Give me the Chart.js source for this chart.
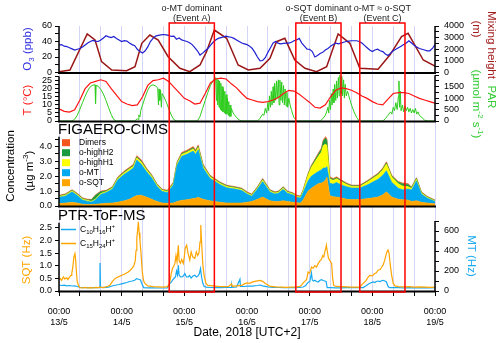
<!DOCTYPE html>
<html><head><meta charset="utf-8">
<script src="https://cdn.jsdelivr.net/npm/chart.js@4/dist/chart.umd.min.js"></script>
<style>html,body{margin:0;padding:0;background:#fff}#wrap{width:500px;height:343px;position:relative}</style>
</head><body><div id="wrap"><canvas id="c" width="500" height="343"></canvas></div>
<script>
// ---------- DATA (hours since 13/5 00:00, UTC+2) ----------
const dayLabels = ['13/5','14/5','15/5','16/5','17/5','18/5','19/5'];
const xTickHours = [0,8,16,24,32,40,48,56,64,72,80,88,96,104,112,120,128,136,144];

const eventNames = ['o-MT dominant','o-SQT dominant','o-MT \u2248 o-SQT'];
const eventTags = ['(Event A)','(Event B)','(Event C)'];
const eventStart = [42.2, 90.7, 115.2];
const eventEnd = [59.5, 108.0, 132.5];

// O3 (ppb), hourly
const o3Step = 1;
const o3 = [35.5,36,34,33.5,32,30.5,29,30,31,33,35.5,38,40,41.5,40.5,40,42,44.5,47.5,46,45,46.5,44,42,
  40,41,40.5,38,36,34.5,30,27,25,28,33,40,44,47,48,48.5,49,48.5,48,46.5,47,43,44.5,42,
  41,40,38.5,36,32,28,22.5,25,28,31,35,39,42,44,45,46,47,46,45.5,44,42,40,38,37,
  36,34,31,26,20,15,15.5,19,26,32,38,40,37.5,37,37.5,38,38,39,41,42,44,38,34,30,
  30,27,20,22,24.5,26,29,31,34,36,38,37,38,39,40,40.5,41,41,41,40,38,35,32,29,
  27,29,30,28,27,24,22,25,28,30,32,34,36,38,41,38,35,33,31,30,29,28,28,31,36];
// Mixing height (m) [hour, value]
const mixPts = [[0,60],[4.2,215],[10.8,3310],[13.8,2795],[16.3,930],[20.2,215],[25.9,150],[29.1,500],
  [31.7,2510],[34.8,3225],[38,2795],[41.8,1360],[46.3,360],[50.1,70],[54,645],[56.5,1790],[59.5,3655],
  [64.2,2940],[68.6,645],[72.5,215],[77,360],[80.8,1220],[83.3,2650],[86.5,2940],[90.3,1075],[94.2,360],
  [98.6,70],[102.5,500],[106.9,3310],[111.4,2510],[115.2,360],[122.2,275],[126.7,1500],[131.2,3080],
  [133.7,3370],[139.5,1075],[144,560]];
// Temperature (degC), every 2 h
const tStep = 2;
const temp = [7.5,6,5.5,7,13,20,23.5,24.5,25.5,24.5,20,16,
  12,10.5,9.5,10,15,22,25,25.5,26.5,24.5,21,17.5,
  14,12.5,10.5,11,17,23.5,26,26.5,26,23,20.5,17,
  14,13,12,11.5,12,13,14.5,17,19,18.5,16.5,14,
  11.5,8.5,8,10,15,19,20.5,20,19,17.5,15.5,14,
  12,10.5,10,13.5,17,17.5,17.5,17,15.5,14,13,12,11];
// PAR (umol m-2 s-1) [hour, value]
const parPts = [[0,0],[5,0],[6,80],[7,250],[8,520],[9,800],[10,1080],[11,1330],[12,1500],[13,1570],[13.8,1580],[14,760],[14.2,1560],
  [15,1520],[16,1380],[17,1180],[18,900],[19,580],[20,280],[21,60],[22,0],
  [29,0],[30,100],[30.3,60],[30.6,260],[31,180],[31.3,450],[32,700],[33,1050],[34,1350],[35,1540],[36,1580],[37,1530],
  [37.8,1450],[38.1,700],[38.3,1400],[38.6,900],[38.9,1350],[39.2,600],[39.5,1200],[40,1100],[41,850],[42,550],[43,260],[44,60],[45,0],
  [53,0],[54,200],[55,550],[56,900],[57,1250],[58,1550],[59,1750],[59.6,1850],[60,1900],[60.3,900],[60.5,1880],[60.8,700],
  [61,1800],[61.3,600],[61.5,1750],[61.8,500],[62,1650],[62.3,450],[62.5,1500],[62.8,400],[63,1400],[63.3,350],[63.5,1300],
  [63.8,300],[64,1150],[64.3,300],[64.5,1000],[64.8,250],[65,850],[65.3,200],[65.5,700],[65.8,200],[66,550],[66.5,400],
  [67,300],[68,150],[69,50],[70,0],
  [76,0],[77,120],[78,300],[78.5,250],[79,550],[79.5,350],[80,800],[80.3,450],[80.6,1100],[81,600],[81.3,1300],[81.6,700],
  [82,1500],[82.3,800],[82.6,1650],[83,900],[83.3,1750],[83.6,1000],[84,1800],[84.3,700],[84.6,1780],[85,900],[85.3,1700],
  [85.6,800],[86,1550],[86.3,700],[86.6,1400],[87,650],[87.3,1250],[87.6,600],[88,1000],[88.5,700],[89,500],[89.5,300],[90,150],[91,0],
  [100,0],[101,100],[102,250],[102.5,400],[103,600],[103.3,350],[103.6,900],[104,500],[104.3,1200],[104.6,700],[105,1400],
  [105.3,800],[105.6,1600],[106,900],[106.3,1750],[106.6,1000],[107,1900],[107.3,1100],[107.6,2000],[108,1200],[108.3,1950],
  [108.6,1100],[109,1800],[109.3,1000],[109.6,1600],[110,1100],[110.5,1300],[111,1100],[111.5,900],[112,700],[113,400],[114,150],[115,0],
  [124,0],[125,100],[126,250],[127,400],[127.5,300],[128,600],[128.5,450],[129,800],[129.5,500],[130,1100],[130.2,1750],
  [130.4,600],[130.7,1300],[131,450],[131.5,700],[132,400],[132.5,650],[133,450],[133.5,600],[134,400],[134.5,550],[135,350],
  [135.5,500],[136,350],[136.5,550],[137,300],[137.5,400],[138,250],[139,150],[140,40],[141,0],[144,0]];

// FIGAERO-CIMS (ug m-3), stacked components
const figTimes = [0,2.5,5,7,9,11,12.5,14,16,18,20.5,22.5,25,27,28.5,29.8,31.5,33.5,35.5,37.5,
  39.5,41.5,43.8,45.2,47,49,51.4,52.3,53.3,55.2,57.8,61.6,64.2,68,70,72,73.8,76,78,80.8,
  82.7,84,85.9,87.5,89.7,91,92.5,93.5,95.4,96.7,99.3,100.5,101.2,102.1,102.6,103.7,105,106.3,108.2,110.1,
  112.1,115.2,118.4,120.5,122.2,124,125.4,127.4,129.9,131.5,133.7,135,136.9,138.8,141,144];
const oSQT = [0.16,0.2,0.25,0.2,0.12,0.1,0.1,0.12,0.15,0.18,
  0.2,0.25,0.35,0.45,0.6,0.7,0.72,0.6,0.45,0.3,
  0.2,0.18,0.2,0.3,0.38,0.42,0.5,0.52,0.58,0.45,
  0.35,0.25,0.2,0.2,0.2,0.25,0.3,0.45,0.6,0.35,
  0.3,0.3,0.35,0.3,0.25,0.22,0.2,0.4,1.0,1.2,
  1.5,1.55,1.6,1.75,1.95,0.7,0.62,0.6,0.55,0.45,
  0.43,0.43,0.5,0.55,0.6,0.75,0.95,0.6,0.45,0.42,
  0.4,0.3,0.35,0.25,0.2,0.15];
const oMT = [0.42,0.48,0.71,0.51,0.29,0.21,0.17,0.30,0.63,0.72,
  0.94,1.52,1.78,1.91,1.95,2.39,2.09,1.71,1.45,1.03,
  0.78,0.73,1.22,2.43,2.96,3.06,3.19,2.96,3.2,2.10,
  1.52,1.20,1.03,0.92,0.84,0.56,0.36,0.69,1.04,0.59,
  0.51,0.56,0.78,0.56,0.49,0.36,0.34,0.50,0.69,0.81,
  0.82,0.87,0.95,0.81,0.70,0.82,0.85,0.98,0.86,0.85,
  0.78,0.78,0.94,1.09,1.19,1.32,1.42,1.00,0.75,0.68,
  0.75,0.78,1.35,0.56,0.33,0.15];
const oHighH1 = [0.06,0.06,0.06,0.06,0.06,0.06,0.05,0.05,0.06,0.06,
  0.07,0.08,0.1,0.12,0.12,0.14,0.14,0.12,0.1,0.08,
  0.07,0.07,0.08,0.1,0.12,0.13,0.14,0.13,0.15,0.12,
  0.1,0.08,0.08,0.07,0.07,0.06,0.06,0.07,0.1,0.07,
  0.06,0.06,0.08,0.06,0.06,0.06,0.06,0.12,0.4,0.6,
  1.0,1.2,1.5,1.6,1.4,0.3,0.25,0.25,0.22,0.15,
  0.1,0.1,0.2,0.25,0.3,0.35,0.45,0.35,0.3,0.25,
  0.15,0.1,0.1,0.06,0.05,0.04];
const oHighH2 = [0.04,0.04,0.04,0.04,0.04,0.04,0.1,0.25,0.12,0.05,
  0.05,0.05,0.06,0.06,0.06,0.07,0.07,0.06,0.05,0.05,
  0.04,0.04,0.05,0.06,0.07,0.07,0.08,0.07,0.08,0.06,
  0.05,0.05,0.05,0.05,0.05,0.04,0.04,0.05,0.06,0.05,
  0.04,0.04,0.05,0.04,0.04,0.04,0.04,0.04,0.06,0.08,
  0.15,0.2,0.3,0.4,0.35,0.08,0.07,0.07,0.06,0.05,
  0.05,0.05,0.05,0.06,0.06,0.07,0.08,0.07,0.1,0.15,
  0.15,0.06,0.06,0.04,0.04,0.03];
const dimers = [0.04,0.04,0.04,0.04,0.04,0.04,0.03,0.03,0.04,0.04,
  0.04,0.05,0.06,0.06,0.07,0.08,0.08,0.06,0.05,0.04,
  0.04,0.04,0.05,0.06,0.07,0.07,0.08,0.08,0.09,0.07,
  0.05,0.04,0.04,0.04,0.04,0.04,0.04,0.04,0.05,0.04,
  0.04,0.04,0.04,0.04,0.04,0.04,0.04,0.04,0.05,0.06,
  0.07,0.08,0.09,0.1,0.1,0.06,0.06,0.06,0.05,0.05,
  0.04,0.04,0.05,0.05,0.05,0.06,0.07,0.05,0.05,0.05,
  0.05,0.04,0.04,0.04,0.03,0.03];

// PTR-ToF-MS: C15H24H+ (SQT, Hz) and C10H16H+ (MT, Hz) [hour, value]
const sqtPts = [[0,0.45],[0.5,0.5],[1,0.42],[1.7,0.56],[2.2,0.48],[3,0.52],[3.4,0.45],[4,0.55],[4.6,0.62],[4.9,0.7],[5.3,0.95],
  [5.7,1.35],[6.1,1.48],[6.4,1.2],[6.7,0.7],[7,0.36],[7.5,0.2],[8,0.13],[9,0.12],[10,0.14],[11,0.12],[12,0.13],[13,0.12],
  [14,0.14],[15,0.13],[15.7,0.16],[16.5,0.13],[17.5,0.15],[18.5,0.18],[19.5,0.23],[20.5,0.38],[21.4,0.49],[22.5,0.55],[24,0.62],
  [25,0.66],[26.5,0.75],[27.3,0.82],[28,0.9],[28.4,0.95],[28.8,1.05],[29.2,1.2],[29.5,1.6],[29.8,2.08],[30.1,2.4],[30.4,2.74],
  [30.7,2.3],[31,2.0],[31.4,1.5],[31.9,0.75],[32.4,0.4],[32.9,0.3],[34,0.2],[36,0.17],[38,0.16],[40,0.15],[41.5,0.17],[42.3,0.3],
  [42.6,0.45],[43,0.7],[43.5,0.9],[44,1.0],[44.4,1.09],[44.8,1.4],[45.2,1.15],[45.7,1.81],[46,1.2],[46.5,1.1],[47,1.25],[47.6,1.09],
  [48,1.35],[48.3,1.68],[48.9,1.81],[49.4,1.5],[50.1,1.22],[50.6,1.55],[51.2,1.35],[52,1.29],[52.6,1.55],[53.1,1.4],[53.6,1.5],
  [54,1.94],[54.3,2.61],[54.6,1.94],[55.1,1.02],[55.6,0.6],[56.3,0.3],[57,0.22],[59,0.2],[61,0.18],[63,0.17],[65,0.18],[66.1,0.28],
  [66.4,0.18],[68,0.2],[70,0.22],[71,0.28],[72,0.32],[73,0.3],[74,0.35],[75,0.38],[76,0.4],[77,0.42],[78,0.38],[79,0.3],[80,0.24],
  [81,0.18],[83,0.16],[85,0.15],[87,0.14],[89,0.15],[91,0.16],[92.3,0.18],[93,0.25],[93.8,0.35],[94.8,0.45],[95.4,0.75],[96,0.7],
  [96.7,0.95],[97.3,0.9],[98,1.0],[98.6,0.95],[99.3,1.09],[100,1.2],[100.5,1.25],[101,1.4],[101.4,1.35],[101.8,1.55],[102.2,1.7],
  [102.4,1.81],[102.7,1.6],[103.2,1.3],[104,1.15],[104.4,1.1],[104.8,0.5],[105.2,0.22],[106,0.18],[108,0.17],[110,0.16],[112,0.15],
  [114,0.15],[115.2,0.14],[116,0.25],[116.5,0.3],[117.5,0.4],[118.4,0.55],[119,0.62],[120,0.6],[120.9,0.69],[121.5,0.72],[122.2,0.82],
  [123,0.85],[123.6,0.95],[124.1,1.02],[124.7,1.2],[125.2,1.42],[125.6,1.55],[126,1.62],[126.4,1.5],[126.8,1.1],[127.4,0.62],[128,0.3],
  [128.7,0.2],[130,0.17],[132,0.16],[134,0.17],[136,0.15],[138,0.16],[140,0.15],[142,0.14],[144,0.15]];
const mtPts = [[0,60],[1,55],[2,58],[3,52],[4,55],[5,50],[6,52],[7,45],[8,35],[10,34],[12,33],[14,33],[15.5,34],[15.7,280],[15.9,40],
  [17,34],[19,38],[20,48],[21,55],[22,60],[23,65],[24,72],[25,78],[26,85],[27,95],[28,100],[29,107],[29.7,124],[30.5,118],[31.2,110],
  [31.8,70],[32.4,34],[34,32],[36,31],[38,30],[40,30],[41.5,32],[42.5,77],[43,90],[43.5,110],[44,125],[44.6,140],[45,200],[45.4,160],
  [45.7,257],[46,160],[46.5,140],[47,140],[47.6,150],[48.2,174],[48.8,140],[49.5,140],[50,155],[50.6,130],[51.3,150],[52,157],
  [52.6,140],[53.2,150],[53.7,170],[54.2,224],[54.6,140],[55.1,77],[55.6,45],[56.5,38],[58,35],[60,34],[62,34],[64,35],[66,36],
  [66.1,60],[66.3,36],[68,40],[69.3,117],[69.5,45],[71,45],[72,50],[74,48],[76,55],[77,60],[78,52],[80,42],[82,36],[84,35],[86,34],
  [88,34],[90,34],[92,35],[93.5,40],[94.5,55],[95,75],[95.5,90],[96,90],[96.7,180],[97,110],[97.5,100],[98,107],[98.6,95],[99.3,90],
  [99.8,105],[100.5,114],[101.2,105],[101.8,100],[102.3,95],[102.7,34],[104,33],[106,32],[108,32],[110,33],[112,33],[114,33],
  [116.5,34],[117.5,50],[118.4,67],[119.3,80],[120.3,90],[121,85],[121.5,95],[122.2,100],[123,95],[123.5,103],[124.1,107],
  [124.8,100],[125.4,90],[126,47],[126.5,34],[128,33],[130,33],[132,32],[134,33],[136,32],[138,32],[140,33],[142,32],[144,33]];

// Axis tick lists
const o3Ticks = [0,10,20,30,40,50,60], o3Labels = [0,20,40,60];
const mixTicks = [0,500,1000,1500,2000,2500,3000,3500,4000], mixLabels = [0,1000,2000,3000,4000];
const tTicks = [0,2.5,5,7.5,10,12.5,15,17.5,20,22.5,25,27.5], tLabels = [0,5,10,15,20,25];
const parTicks = [0,250,500,750,1000,1250,1500,1750,2000], parLabels = [0,500,1000,1500];
const concTicks = [0,0.5,1,1.5,2,2.5,3,3.5,4,4.5], concLabels = [0,1,2,3,4];
const sqtTicks = [0,0.5,1,1.5,2,2.5], sqtLabels = [0,0.5,1,1.5,2,2.5];
const mtTicks = [0,100,200,300,400,500,600,700], mtLabels = [0,200,400,600];

// ---------- CHART ----------
const FONT = '"Liberation Sans", Arial, Helvetica, sans-serif';
const C = {o3:'#1f1fd2', mix:'#9b1616', t:'#ff1414', par:'#2fcc1f', sqt:'#ffa500', mt:'#00a9ef',
  h1:'#ffff00', h2:'#199a3e', dim:'#f2561d', ptrMT:'#17a9f0', ptrSQT:'#ffa500'};

const pairs = a => a.map(p => ({x:p[0], y:p[1]}));
const stepped = (a, st) => a.map((v,i) => ({x:i*st, y:v}));
const fig = a => a.map((v,i) => ({x:figTimes[i], y:v}));

function yScale(pos, weight, min, max, tickVals, labelVals, fmt) {
  return {
    type:'linear', position:pos, stack: pos === 'left' ? 'L' : 'R', stackWeight: weight,
    min, max,
    afterBuildTicks: s => { s.ticks = tickVals.map(v => ({value:v})); },
    afterFit: s => { s.width = pos === 'left' ? 59 : 65; },
    border:{display:false},
    grid:{drawOnChartArea:false, drawTicks:true, tickLength:4, tickColor:'#000', tickWidth:1},
    ticks:{font:{family:FONT, size:9}, color:'#000', padding: pos === 'left' ? 3 : 5, autoSkip:false,
      callback: v => labelVals.includes(v) ? fmt(v) : ''}
  };
}
const fInt = v => String(v), f1 = v => v.toFixed(1);

const lineDs = (label, data, axis, color, w) => ({label, data, yAxisID:axis, borderColor:color,
  backgroundColor:color, borderWidth:w, pointRadius:0, tension:0, fill:false});
const areaDs = (label, data, color, fill) => ({label, data, yAxisID:'yConc', borderColor:color,
  backgroundColor:color, borderWidth:0.6, pointRadius:0, tension:0, fill, stack:'fig'});

function richWidth(ctx, parts, size) {
  let w = 0;
  for (const [t,k] of parts) { ctx.font = (k ? size*0.7 : size) + 'px ' + FONT; w += ctx.measureText(t).width; }
  return w;
}
function drawRich(ctx, parts, x, y, size, align) {
  const w = richWidth(ctx, parts, size);
  let cx = align === 'center' ? x - w/2 : (align === 'right' ? x - w : x);
  ctx.textBaseline = 'middle'; ctx.textAlign = 'left';
  for (const [t,k] of parts) {
    const s = k ? size*0.7 : size;
    ctx.font = s + 'px ' + FONT;
    const dy = k === 'sub' ? size*0.3 : (k === 'sup' ? -size*0.38 : 0);
    ctx.fillText(t, cx, y + dy);
    cx += ctx.measureText(t).width;
  }
}
function drawRot(ctx, parts, cx, cy, size, color, ang) {
  ctx.save(); ctx.translate(cx, cy); ctx.rotate(ang); ctx.fillStyle = color;
  drawRich(ctx, parts, 0, 0, size, 'center'); ctx.restore();
}

const deco = {
  id:'deco',
  afterDraw(chart) {
    const {ctx, chartArea:ca, scales:s} = chart;
    ctx.save();
    // axis lines
    ctx.strokeStyle = '#000'; ctx.lineWidth = 1.5;
    const vline = (x, sc, top) => { ctx.beginPath(); ctx.moveTo(x, sc.getPixelForValue(0)+1); ctx.lineTo(x, sc.getPixelForValue(top)); ctx.stroke(); };
    vline(ca.left, s.yO3, o3Ticks[o3Ticks.length-1]);
    vline(ca.right, s.yMix, mixTicks[mixTicks.length-1]);
    vline(ca.left, s.yT, tTicks[tTicks.length-1]);
    vline(ca.right, s.yPAR, parTicks[parTicks.length-1]);
    vline(ca.left, s.yConc, concTicks[concTicks.length-1] + 0.15);
    vline(ca.left, s.ySQT, 2.7);
    vline(ca.right, s.yMT, mtTicks[mtTicks.length-1]);
    // panel bottom lines
    ctx.lineWidth = 2;
    [s.yO3, s.yT, s.yConc, s.ySQT].forEach(sc => {
      const y = sc.getPixelForValue(0) + 0.5;
      ctx.beginPath(); ctx.moveTo(ca.left - 1, y); ctx.lineTo(ca.right + 1, y); ctx.stroke();
    });
    // event boxes
    ctx.strokeStyle = '#ff0000'; ctx.lineWidth = 1.5;
    for (let i = 0; i < eventStart.length; i++) {
      const x0 = s.x.getPixelForValue(eventStart[i]), x1 = s.x.getPixelForValue(eventEnd[i]);
      ctx.strokeRect(x0, ca.top - 3, x1 - x0, ca.bottom - ca.top + 4);
      ctx.fillStyle = '#222';
      ctx.font = '9px ' + FONT; ctx.textAlign = 'center'; ctx.textBaseline = 'middle';
      ctx.fillText(eventNames[i], (x0 + x1)/2, 8.5);
      ctx.fillText(eventTags[i], (x0 + x1)/2, 18.5);
    }
    // panel titles
    ctx.fillStyle = '#000'; ctx.textAlign = 'left'; ctx.textBaseline = 'middle';
    ctx.font = '15px ' + FONT;
    ctx.fillText('FIGAERO-CIMS', ca.left - 1, 130);
    ctx.fillText('PTR-ToF-MS', ca.left - 1, 216);
    // FIGAERO legend
    const ds = chart.data.datasets;
    const figOrder = [8,7,6,5,4];
    ctx.font = '8.5px ' + FONT;
    figOrder.forEach((di, k) => {
      const y = 142.7 + k*10;
      ctx.fillStyle = ds[di].backgroundColor;
      ctx.fillRect(62, y - 3.5, 8, 7);
      ctx.fillStyle = '#000';
      ctx.fillText(ds[di].label, 79, y);
    });
    // PTR legend
    const ptrLeg = [[10, [['C',''],['10','sub'],['H',''],['16','sub'],['H',''],['+','sup']]],
                    [9, [['C',''],['15','sub'],['H',''],['24','sub'],['H',''],['+','sup']]]];
    ptrLeg.forEach(([di, parts], k) => {
      const y = 229.5 + k*14;
      ctx.strokeStyle = ds[di].borderColor; ctx.lineWidth = 1.5;
      ctx.beginPath(); ctx.moveTo(61, y); ctx.lineTo(76, y); ctx.stroke();
      ctx.fillStyle = '#000';
      drawRich(ctx, parts, 80, y, 8.5, 'left');
    });
    // axis titles (left)
    const L = -Math.PI/2, R = Math.PI/2;
    drawRot(ctx, [['O',''],['3','sub'],[' (ppb)','']], 28, 49, 11.5, '#3434e0', L);
    drawRot(ctx, [['T (\u00b0C)','']], 28, 100, 11.5, '#ff1a1a', L);
    drawRot(ctx, [['Concentration','']], 11, 166, 11.5, '#000', L);
    drawRot(ctx, [['(\u00b5g m',''],['-3','sup'],[')','']], 30, 171, 11.5, '#000', L);
    drawRot(ctx, [['SQT (Hz)','']], 27, 260, 11.5, '#ffa500', L);
    // axis titles (right)
    drawRot(ctx, [['Mixing height','']], 491, 45, 11.5, '#a31e1e', R);
    drawRot(ctx, [['(m)','']], 476, 29, 11.5, '#a31e1e', R);
    drawRot(ctx, [['PAR','']], 491, 97, 11.5, '#33cc33', R);
    drawRot(ctx, [['(\u00b5mol m',''],['-2','sup'],[' s',''],['-1','sup'],[')','']], 476, 104, 11.5, '#33cc33', R);
    drawRot(ctx, [['MT (Hz)','']], 471, 256, 11.5, '#1aa9f0', R);
    ctx.restore();
  }
};

new Chart(document.getElementById('c'), {
  type:'line',
  data:{datasets:[
    lineDs('O3', stepped(o3, o3Step), 'yO3', C.o3, 1.2),               // 0
    lineDs('Mixing height', pairs(mixPts), 'yMix', C.mix, 1.5),        // 1
    lineDs('T', stepped(temp, tStep), 'yT', C.t, 1.2),                 // 2
    lineDs('PAR', pairs(parPts), 'yPAR', C.par, 1),                    // 3
    areaDs('o-SQT', fig(oSQT), C.sqt, 'origin'),                       // 4
    areaDs('o-MT', fig(oMT), C.mt, '-1'),                              // 5
    areaDs('o-highH1', fig(oHighH1), C.h1, '-1'),                      // 6
    areaDs('o-highH2', fig(oHighH2), C.h2, '-1'),                      // 7
    areaDs('Dimers', fig(dimers), C.dim, '-1'),                        // 8
    lineDs('C15H24H+', pairs(sqtPts), 'ySQT', C.ptrSQT, 1.2),         // 9
    lineDs('C10H16H+', pairs(mtPts), 'yMT', C.ptrMT, 1.2)             // 10
  ]},
  options:{
    responsive:false, animation:false, events:[],
    layout:{padding:{top:26, left:0, right:0, bottom:0}},
    plugins:{legend:{display:false}, tooltip:{enabled:false}},
    scales:{
      x:{type:'linear', min:0, max:144,
        afterBuildTicks: s => { s.ticks = xTickHours.map(v => ({value:v})); },
        afterFit: s => { s.height = 52; },
        border:{display:false},
        grid:{color:'rgba(150,150,235,0.4)', lineWidth:1, drawTicks:true, tickLength:5, tickColor:'#000'},
        ticks:{autoSkip:false, maxRotation:0, font:{family:FONT, size:9}, color:'#000', padding:10,
          callback: v => (v % 24 === 0) ? ['00:00', dayLabels[v/24]] : ''},
        title:{display:true, text:'Date, 2018 [UTC+2]', font:{family:FONT, size:12}, color:'#000', padding:{top:0, bottom:3}}
      },
      ySQT: yScale('left', 85, 0, 3.36, sqtTicks, sqtLabels, f1),
      yConc: Object.assign(yScale('left', 85, 0, 5.71, concTicks, concLabels, f1), {stacked:true}),
      yT: yScale('left', 48.5, 0, 30, tTicks, tLabels, fInt),
      yO3: yScale('left', 46.5, 0, 60, o3Ticks, o3Labels, fInt),
      yMix: yScale('right', 46.5, 0, 4000, mixTicks, mixLabels, fInt),
      yPAR: yScale('right', 48.5, 0, 2120, parTicks, parLabels, fInt),
      yR3: Object.assign(yScale('right', 85, 0, 1, [], [], fInt), {grid:{display:false}, ticks:{display:false}}),
      yMT: yScale('right', 85, 0, 850, mtTicks, mtLabels, fInt)
    }
  },
  plugins:[deco]
});
</script>
</body></html>
